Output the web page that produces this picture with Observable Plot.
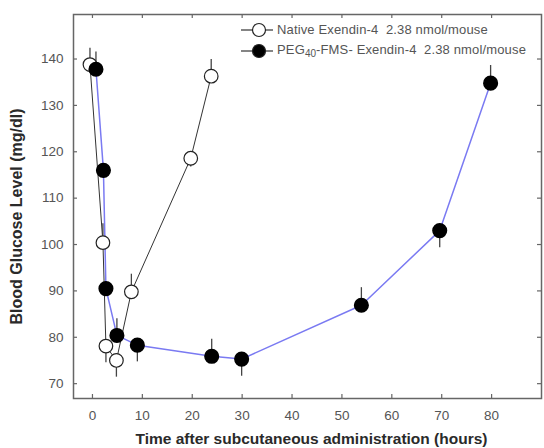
<!DOCTYPE html>
<html>
<head>
<meta charset="utf-8">
<script src="https://cdn.jsdelivr.net/npm/d3@7"></script>
<script src="https://cdn.jsdelivr.net/npm/@observablehq/plot@0.6"></script>
<style>
  html, body { margin: 0; padding: 0; background: #fff; }
  #wrap { position: relative; width: 544px; height: 448px; }
  .legend { position: absolute; left: 240px; top: 19px; font-family: "Liberation Sans", Arial, sans-serif; font-size: 13px; letter-spacing: 0.15px; color: #555; }
  .row { display: flex; align-items: center; height: 21px; white-space: pre; }
  .row svg { display: block; margin-right: 3px; }
</style>
</head>
<body>
<div id="wrap"></div>
<script>
// Native Exendin-4 2.38 nmol/mouse
const nativeTime    = [-0.5, 2.1, 2.7, 4.8, 7.8, 19.7, 23.8];
const nativeGlucose = [138.8, 100.4, 78.1, 75.0, 89.8, 118.6, 136.3];
const nativeErrTip  = [142.3, 104.5, 74.5, 71.4, 93.6, 116.7, 139.9];

// PEG40-FMS- Exendin-4 2.38 nmol/mouse
const pegTime    = [0.7, 2.2, 2.7, 4.9, 9.0, 23.9, 29.9, 53.9, 69.6, 79.8];
const pegGlucose = [137.8, 116.0, 90.5, 80.4, 78.3, 75.9, 75.3, 86.9, 103.0, 134.8];
const pegErrTip  = [141.5, null, null, 84.0, 74.7, 79.6, 71.6, 90.7, 99.3, 138.6];

const xTicks = [0, 10, 20, 30, 40, 50, 60, 70, 80];
const yTicks = [70, 80, 90, 100, 110, 120, 130, 140];

const xLabel = "Time after subcutaneous administration (hours)";
const yLabel = "Blood Glucose Level (mg/dl)";

const nativeData = nativeTime.map((t, i) => ({t, g: nativeGlucose[i], e: nativeErrTip[i]}));
const pegData = pegTime.map((t, i) => ({t, g: pegGlucose[i], e: pegErrTip[i]}));

const W = 544, H = 448, mL = 73, mR = 3, mT = 14, mB = 50;
const fw = W - mL - mR, fh = H - mT - mB;

const chart = Plot.plot({
  width: W, height: H,
  marginLeft: mL, marginRight: mR, marginTop: mT, marginBottom: mB,
  style: {fontFamily: "'Liberation Sans', Arial, sans-serif", fontSize: "13.5px", color: "#555", background: "#fff"},
  x: {domain: [-3.8, 90]},
  y: {domain: [66.8, 149.6]},
  marks: [
    Plot.frame({stroke: "#666", strokeWidth: 1.5}),
    // inward ticks
    Plot.tickX(xTicks, {x: d => d, insetTop: fh - 4, stroke: "#666", strokeWidth: 1.2}),
    Plot.tickX(xTicks, {x: d => d, insetBottom: fh - 4, stroke: "#666", strokeWidth: 1.2}),
    Plot.tickY(yTicks, {y: d => d, insetRight: fw - 4, stroke: "#666", strokeWidth: 1.2}),
    Plot.tickY(yTicks, {y: d => d, insetLeft: fw - 4, stroke: "#666", strokeWidth: 1.2}),
    Plot.axisX({ticks: xTicks, tickSize: 0, tickPadding: 12, fontSize: 13.5, label: xLabel, labelAnchor: "center", labelOffset: 45, labelArrow: false}),
    Plot.axisY({ticks: yTicks, tickSize: 0, tickPadding: 10, fontSize: 13.5, label: yLabel, labelAnchor: "center", labelOffset: 63, labelArrow: false}),
    // error bars
    Plot.ruleX(nativeData, {x: "t", y1: "g", y2: "e", stroke: "#444", strokeWidth: 1.3}),
    Plot.ruleX(pegData.filter(d => d.e != null), {x: "t", y1: "g", y2: "e", stroke: "#444", strokeWidth: 1.3}),
    // lines
    Plot.line(nativeData, {x: "t", y: "g", stroke: "#333", strokeWidth: 1}),
    Plot.line(pegData, {x: "t", y: "g", stroke: "#7a7af2", strokeWidth: 1.5}),
    // markers
    Plot.dot(nativeData, {x: "t", y: "g", r: 6.8, fill: "#fff", stroke: "#222", strokeWidth: 1.2}),
    Plot.dot(pegData, {x: "t", y: "g", r: 6.8, fill: "#000", stroke: "#000"})
  ]
});

const svg = d3.select(chart);
svg.selectAll("[aria-label='x-axis label'] text, [aria-label='y-axis label'] text")
  .each(function() { this.textContent = this.textContent.replace(/[\u2190-\u2193]/g, "").trim(); })
  .style("font-weight", "bold").style("fill", "#2a2a2a");
svg.selectAll("[aria-label='x-axis label'] text").style("font-size", "15.5px").attr("dx", 4);
svg.selectAll("[aria-label='y-axis label'] text").style("font-size", "16px").attr("dx", -10);

document.getElementById("wrap").appendChild(chart);

// legend
const legendItems = [
  {fill: "#fff", html: "Native Exendin-4  2.38 nmol/mouse"},
  {fill: "#000", html: "PEG<sub style='font-size:10px;vertical-align:-3px;letter-spacing:0'>40</sub>-FMS- Exendin-4  2.38 nmol/mouse"}
];
const lg = d3.select("#wrap").append("div").attr("class", "legend");
legendItems.forEach(it => {
  const row = lg.append("div").attr("class", "row");
  const s = row.append("svg").attr("width", 34).attr("height", 18);
  s.append("line").attr("x1", 1).attr("x2", 33).attr("y1", 9).attr("y2", 9).attr("stroke", "#333").attr("stroke-width", 1.2);
  s.append("circle").attr("cx", 19).attr("cy", 9).attr("r", 6.5).attr("fill", it.fill).attr("stroke", "#222").attr("stroke-width", 1.2);
  row.append("span").html(it.html);
});
</script>
</body>
</html>
